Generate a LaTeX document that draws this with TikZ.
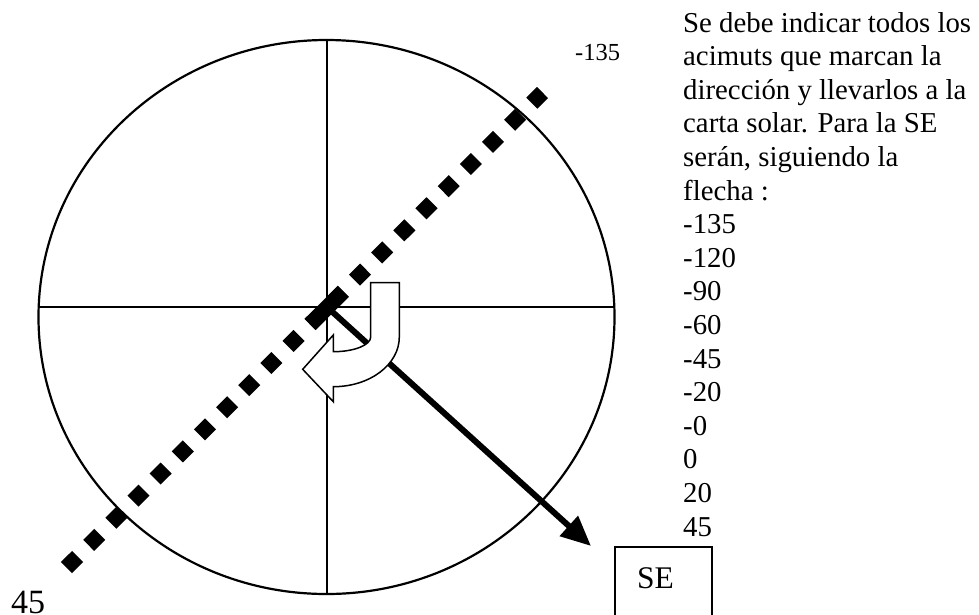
\documentclass[tikz,border=0pt]{standalone}
\usepackage{fontspec}
\setmainfont{Liberation Serif}
\usetikzlibrary{arrows.meta}

\tikzset{
  cruz/.style={line width=2.2pt},
  rumbo/.style={line width=15.6pt,dash pattern=on 15.6pt off 15.7pt},
  flechaSE/.style={line width=6pt,-{Triangle[length=30pt,width=26pt]}},
  giro/.style={draw,fill=white,line width=1.5pt,line join=miter},
  texto/.style={font=\fontsize{28.8}{33.6}\selectfont,inner sep=0pt}
}

\begin{document}
\begin{tikzpicture}[x=1pt,y=-1pt]
    \useasboundingbox (0,0) rectangle (979,614);
    % círculo y ejes
    \coordinate (o) at (327,307);
    \draw[line width=2.2pt] (326.5,317) ellipse [x radius=288,y radius=277];
    \draw[cruz] (38.7,307) -- (614.3,307);
    \draw[cruz] (327,40) -- (327,594);
    % dirección punteada
    \draw[rumbo] (66.5,567.5) -- (542.5,92.5);
    \draw[line width=15.6pt] (310,324.5) -- (343.2,291.5);
    % flecha hacia SE
    \coordinate (tip) at (591,546);
    \draw[flechaSE] (o) -- (tip);
    % giro
    \draw[giro] (370.7,282.7) -- (399.3,282.7) -- (399.3,337)
      .. controls (399.3,364.6) and (369.8,386.7) .. (333.3,386.7)
      -- (333.3,401.7) -- (302.7,369.3) -- (333.3,335) -- (333.3,351.7)
      .. controls (354,351.7) and (370.7,345.1) .. (370.7,337) -- cycle;
    % rótulos
    \node[font=\fontsize{24.5}{28}\selectfont,inner sep=0pt,anchor=base west] (arriba) at (575,60) {-135};
    \node[font=\fontsize{34}{40}\selectfont,inner sep=0pt,anchor=base west] (abajo) at (11,613) {45};
    \draw[line width=1.2pt] (615,640) |- (712,547) -- (712,640);
    \node[font=\fontsize{31.5}{36}\selectfont,inner sep=0pt,anchor=base west] (se) at (637,588) {SE};
    \node[texto,anchor=base west,align=left] (nota) at (683,536) {Se debe indicar todos los\\acimuts que marcan la\\dirección y llevarlos a la\\carta solar. Para la SE\\serán, siguiendo la\\flecha :\\-135\\-120\\-90\\-60\\-45\\-20\\-0\\0\\20\\45};
\end{tikzpicture}
\end{document}
